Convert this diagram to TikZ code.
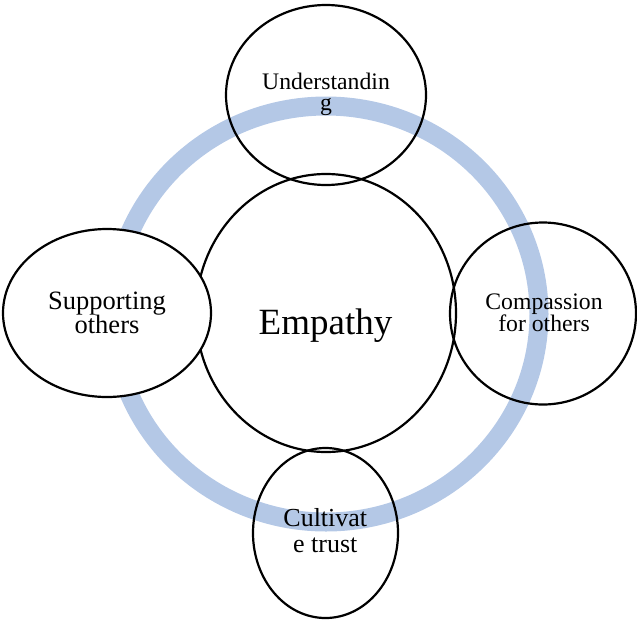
\documentclass[tikz,border=0pt]{standalone}
\usepackage{fontspec}
\setmainfont{Liberation Serif}
\usetikzlibrary{shapes.geometric}
\definecolor{ringblue}{HTML}{B4C8E6}
\tikzset{
  oval/.style={draw=black, line width=2.2pt, ellipse, inner sep=0pt},
  lbl/.style={anchor=base, inner sep=0pt, text=black},
}
\begin{document}
\begin{tikzpicture}[x=1pt,y=-1pt]
\useasboundingbox (0,0) rectangle (637,619);
% ring
\draw[ringblue, line width=19pt] (326,314) ellipse [x radius=213, y radius=208];
% ellipses
\node[oval, minimum width=260pt, minimum height=278pt] (center) at (326,313) {};
\node[oval, fill=white, minimum width=208pt, minimum height=168pt] (left) at (107,313) {};
\node[oval, minimum width=200pt, minimum height=180pt] (top) at (326,95) {};
\node[oval, minimum width=186pt, minimum height=182pt] (right) at (543,313.5) {};
\node[oval, minimum width=145pt, minimum height=170pt] (bottom) at (325.5,533) {};
% labels
\node[lbl, font=\fontsize{37}{40}\selectfont] (tEmp) at (325.5,334) {Empathy};
\node[lbl, font=\fontsize{23.7}{24}\selectfont] (tUnd1) at (326,89) {Understandin};
\node[lbl, font=\fontsize{23.7}{24}\selectfont] (tUnd2) at (326,110) {g};
\node[lbl, font=\fontsize{26.5}{27}\selectfont] (tSup1) at (107,309) {Supporting};
\node[lbl, font=\fontsize{26.5}{27}\selectfont] (tSup2) at (107,333.5) {others};
\node[lbl, font=\fontsize{23.7}{24}\selectfont] (tCom1) at (544,309) {Compassion};
\node[lbl, font=\fontsize{23.7}{24}\selectfont] (tCom2) at (544,331.7) {for others};
\node[lbl, font=\fontsize{26}{27}\selectfont] (tCul1) at (325.3,526.7) {Cultivat};
\node[lbl, font=\fontsize{26}{27}\selectfont] (tCul2) at (325.3,552.7) {e trust};
\end{tikzpicture}
\end{document}
